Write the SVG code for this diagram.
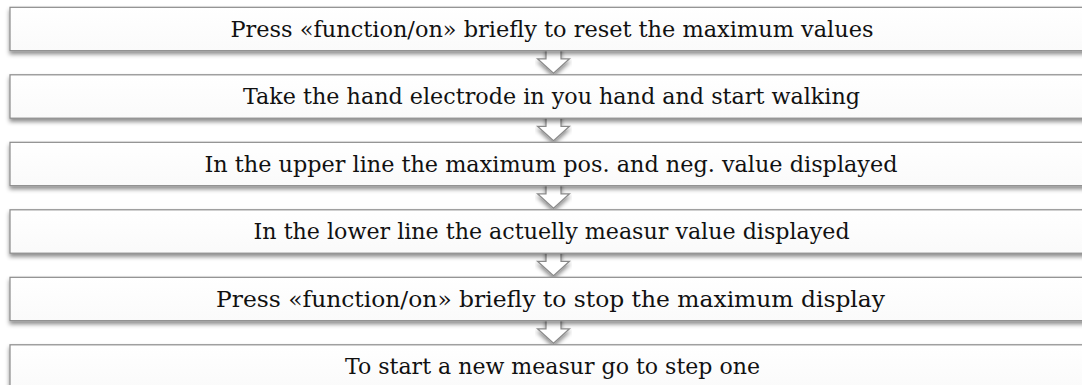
<svg xmlns="http://www.w3.org/2000/svg" width="1082" height="385" viewBox="0 0 1082 385">
  <defs>
    <filter id="sh" x="-5%" y="-30%" width="110%" height="180%">
      <feDropShadow dx="0" dy="3" stdDeviation="2" flood-color="#000" flood-opacity="0.45"/>
    </filter>
    <linearGradient id="bg" x1="0" y1="0" x2="0" y2="1">
      <stop offset="0" stop-color="#ffffff"/>
      <stop offset="1" stop-color="#fafafa"/>
    </linearGradient>
  </defs>
  <style>
    .box { fill: url(#bg); stroke: #8a8a8a; stroke-width: 1.2; filter: url(#sh); }
    .arr { fill: #ffffff; stroke: #8a8a8a; stroke-width: 1.2; stroke-linejoin: miter; filter: url(#sh); }
    .lbl { font-family: "DejaVu Serif", "Liberation Serif", serif; font-size: 22px; fill: #111; text-anchor: middle; }
  </style>
  <rect width="1082" height="385" fill="#ffffff"/>
  <g id="connectors">
    <polygon class="arr" points="546,45 561,45 561,58.8 569.5,58.8 553.5,73.3 537.5,58.8 546,58.8"/>
    <polygon class="arr" points="546,112.5 561,112.5 561,126.3 569.5,126.3 553.5,140.8 537.5,126.3 546,126.3"/>
    <polygon class="arr" points="546,180 561,180 561,193.8 569.5,193.8 553.5,208.3 537.5,193.8 546,193.8"/>
    <polygon class="arr" points="546,247.5 561,247.5 561,261.3 569.5,261.3 553.5,275.8 537.5,261.3 546,261.3"/>
    <polygon class="arr" points="546,315 561,315 561,328.8 569.5,328.8 553.5,343.3 537.5,328.8 546,328.8"/>
  </g>
  <g id="step1">
    <rect class="box" x="10" y="7.3" width="1090" height="43.4"/>
    <text class="lbl" x="552" y="36.7" textLength="643" lengthAdjust="spacingAndGlyphs">Press «function/on» briefly to reset the maximum values</text>
  </g>
  <g id="step2">
    <rect class="box" x="10" y="74.8" width="1090" height="43.4"/>
    <text class="lbl" x="551.5" y="104.2" textLength="617" lengthAdjust="spacingAndGlyphs">Take the hand electrode in you hand and start walking</text>
  </g>
  <g id="step3">
    <rect class="box" x="10" y="142.3" width="1090" height="43.4"/>
    <text class="lbl" x="551" y="171.7" textLength="693" lengthAdjust="spacingAndGlyphs">In the upper line the maximum pos. and neg. value displayed</text>
  </g>
  <g id="step4">
    <rect class="box" x="10" y="209.8" width="1090" height="43.4"/>
    <text class="lbl" x="551.6" y="239.2" textLength="596" lengthAdjust="spacingAndGlyphs">In the lower line the actuelly measur value displayed</text>
  </g>
  <g id="step5">
    <rect class="box" x="10" y="277.3" width="1090" height="43.4"/>
    <text class="lbl" x="550.5" y="306.7" textLength="669" lengthAdjust="spacingAndGlyphs">Press «function/on» briefly to stop the maximum display</text>
  </g>
  <g id="step6">
    <rect class="box" x="10" y="344.8" width="1090" height="43.4"/>
    <text class="lbl" x="552.5" y="374.2" textLength="415" lengthAdjust="spacingAndGlyphs">To start a new measur go to step one</text>
  </g>
</svg>
